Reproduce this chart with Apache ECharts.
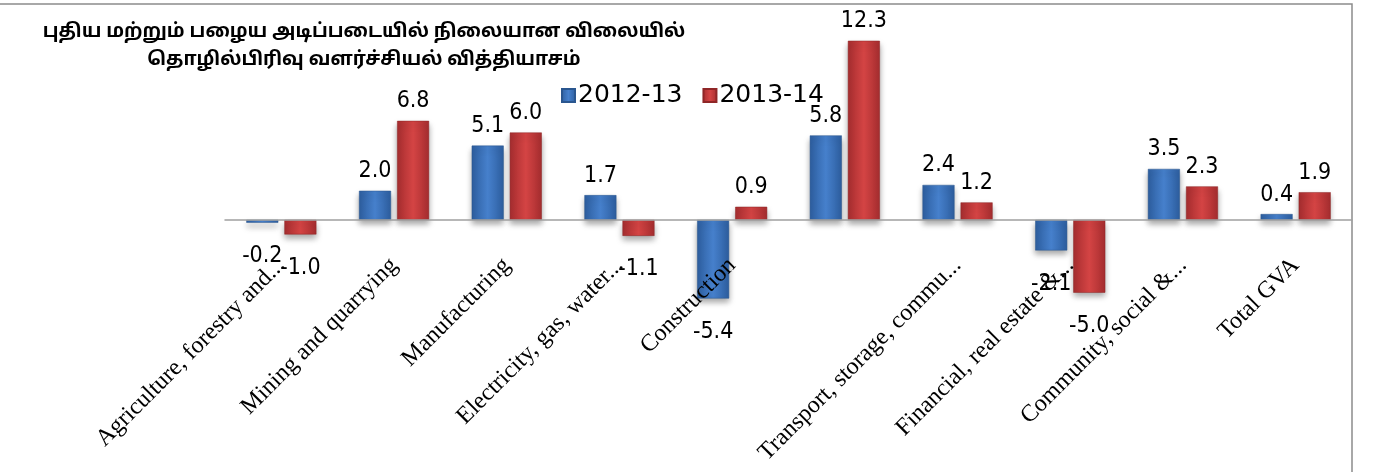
<!DOCTYPE html>
<html>
<head>
<meta charset="utf-8">
<script src="https://cdn.jsdelivr.net/npm/echarts@6/dist/echarts.min.js"></script>
<style>
html,body{margin:0;padding:0;background:#fff;}
#c{width:1388px;height:472px;}
</style>
</head>
<body>
<div id="c"></div>
<script>
const titleLines = ['புதிய மற்றும் பழைய அடிப்படையில் நிலையான விலையில்', 'தொழில்பிரிவு வளர்ச்சியல் வித்தியாசம்'];
const categories = ['Agriculture, forestry and...', 'Mining and quarrying', 'Manufacturing', 'Electricity, gas, water...', 'Construction', '', 'Transport, storage, commu...', 'Financial, real estate &...', 'Community, social &...', 'Total GVA'];
const seriesNames = ['2012-13', '2013-14'];
const values2012 = [-0.2, 2.0, 5.1, 1.7, -5.4, 5.8, 2.4, -2.1, 3.5, 0.4];
const values2013 = [-1.0, 6.8, 6.0, -1.1, 0.9, 12.3, 1.2, -5.0, 2.3, 1.9];
const yMin = -10, yMax = 14;

const chart = echarts.init(document.getElementById('c'));
const labelFont = "'Liberation Sans Narrow','DejaVu Sans Condensed',sans-serif";
const gridTop = 16, gridBottom = 106.5;
const gridH = 472 - gridTop - gridBottom;
// distance from grid bottom up to the zero line, so the category axis sits on zero
const zeroOffset = -gridH * (0 - yMin) / (yMax - yMin);
function items(vals){
  return vals.map(v => ({
    value: v,
    label: v < 0 ? {position: 'bottom', distance: 22} : {position: 'top', distance: 8}
  }));
}
function grad(edge, mid){
  return new echarts.graphic.LinearGradient(0,0,1,0,[
    {offset:0,color:edge},{offset:0.5,color:mid},{offset:1,color:edge}
  ]);
}
const barLabel = {
  show: true, color: '#000', fontSize: 23, fontFamily: labelFont,
  formatter: p => p.value.toFixed(1)
};
chart.setOption({
  animation: false,
  title: {
    text: titleLines.join('\n'),
    left: 359, top: 14, textAlign: 'center',
    textStyle: {fontSize: 19, fontWeight: 'bold', color: '#000', lineHeight: 28,
      fontFamily: "'Noto Sans Tamil','Latha','Noto Sans',sans-serif"}
  },
  legend: {
    left: 556, top: 78, itemWidth: 13, itemHeight: 13, itemGap: 20, icon: 'rect',
    data: seriesNames,
    textStyle: {fontSize: 25, color: '#000', fontFamily: "'DejaVu Sans',sans-serif", padding: [0,0,0,-2]}
  },
  grid: {left: 225, right: 36, top: gridTop, bottom: gridBottom, outerBoundsMode: 'none', containLabel: false},
  xAxis: {
    type: 'category',
    data: categories,
    position: 'bottom',
    offset: zeroOffset,
    z: 5,
    axisLine: {onZero: false, lineStyle: {color: '#a0a0a0', width: 1.5}},
    axisTick: {show: false},
    axisLabel: {rotate: 45, margin: 42, interval: 0, fontSize: 24, color: '#000',
      fontFamily: "'Liberation Serif','Times New Roman',serif"}
  },
  yAxis: {
    type: 'value', min: yMin, max: yMax, show: false, splitLine: {show: false}
  },
  series: [
    {name: seriesNames[0], type: 'bar', data: items(values2012), barWidth: 32, barGap: '19%',
      itemStyle: {color: grad('#2d5e9f', '#4680cc'), borderColor: '#2a568f', borderWidth: 0.5,
        shadowColor: 'rgba(0,0,0,0.35)', shadowBlur: 6, shadowOffsetY: 4},
      label: barLabel},
    {name: seriesNames[1], type: 'bar', data: items(values2013), barWidth: 32,
      itemStyle: {color: grad('#a62d2f', '#d44444'), borderColor: '#8f2627', borderWidth: 0.5,
        shadowColor: 'rgba(0,0,0,0.35)', shadowBlur: 6, shadowOffsetY: 4},
      label: barLabel}
  ],
  graphic: [{
    type: 'rect', shape: {x: -2, y: 4, width: 1354, height: 500},
    style: {fill: 'none', stroke: '#8c8c8c', lineWidth: 1.5}, silent: true
  }]
});
</script>
</body>
</html>
